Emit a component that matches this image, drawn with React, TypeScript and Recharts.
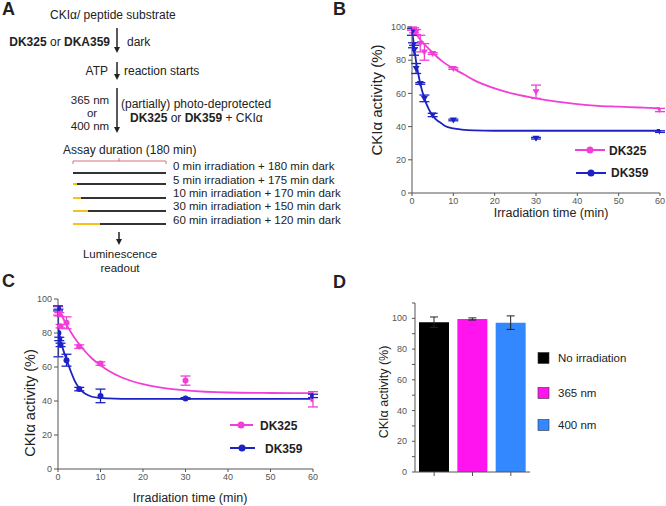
import { ComposedChart, Line, Scatter, ErrorBar, XAxis, YAxis, BarChart, Bar, Cell } from "recharts"

const FONT = "'Liberation Sans', Arial, sans-serif"
const PINK = "#f23ed6"
const BLUE = "#1c22c4"
const AXIS = "#555"

const TIME_TICKS = [0, 10, 20, 30, 40, 50, 60]
const ACT_TICKS = [0, 20, 40, 60, 80, 100]

// panel B
const B_325_T = [0, 0.5, 1, 2, 3, 5, 10, 30, 60]
const B_325_Y = [99, 98, 97, 90, 85, 84, 75, 61, 50]
const B_325_E = [1, 1.5, 1.5, 5, 5, 0.5, 0.5, 4, 1]
const B_359_T = [0, 0.25, 0.5, 1, 2, 3, 5, 10, 30, 60]
const B_359_Y = [97, 89, 86, 75, 66, 57, 47, 44, 33, 37]
const B_359_E = [2, 1.5, 3, 3, 0.5, 2, 1, 0.5, 0.5, 0.5]
// fitted curves, read at a few times
const B_FIT_325_T = [0, 1, 2, 3, 4, 5, 7.5, 10, 12.5, 15, 20, 25, 30, 35, 40, 45, 50, 55, 60]
const B_FIT_325_Y = [98.5, 95.5, 92.5, 89.5, 87, 84.5, 79, 75, 71.5, 68, 63, 59.5, 57, 55, 53.5, 52.5, 52, 51.5, 51]
const B_FIT_359_T = [0, 0.5, 1, 1.5, 2, 3, 4, 5, 6, 7, 8, 10, 12, 15, 20, 30, 40, 60]
const B_FIT_359_Y = [98, 88.6, 79, 72, 66, 57, 50.8, 46.6, 43.9, 42.2, 40.4, 38.9, 38.2, 37.7, 37.5, 37.5, 37.5, 37.5]

// panel C
const C_325_T = [0, 0.3, 0.6, 2, 5, 10, 30, 60]
const C_325_Y = [93, 91, 84, 86, 72, 62, 52, 41]
const C_325_E = [2.5, 1, 1, 3.5, 1, 1, 2.7, 4.5]
const C_359_T = [0, 0.1, 0.3, 0.6, 2, 5, 10, 30, 60]
const C_359_Y = [94.5, 80, 76.5, 73, 64, 47, 43, 41.5, 43]
const C_359_E = [1.5, 14, 1, 1, 3.5, 1, 4, 0.5, 1]
const C_FIT_325_T = [0, 1, 2, 3, 4, 5, 6, 8, 10, 12, 15, 20, 25, 30, 40, 50, 60]
const C_FIT_325_Y = [95, 89.7, 84.9, 80.6, 76.8, 73.4, 70.3, 65, 61, 57.6, 53.8, 49.9, 47.6, 46.3, 45, 44.7, 44.6]
const C_FIT_359_T = [0, 0.5, 1, 1.5, 2, 3, 4, 5, 6, 7, 8, 10, 12, 15, 20, 60]
const C_FIT_359_Y = [84, 76, 72, 68, 64.5, 57.5, 51.5, 47.5, 45, 43.5, 42.5, 41.8, 41.5, 41.3, 41.2, 41.2]

// panel D
const D_CATS = ["No irradiation", "365 nm", "400 nm"]
const D_VALS = [97.5, 99.6, 97.2]
const D_ERRS = [3.4, 0.7, 4.4]
const D_COLORS = ["#000000", "#ff14f0", "#3388ff"]
const D_TICKS = [0, 10, 20, 30, 40, 50, 60, 70, 80, 90, 100, 110]

const zip = (xs: number[], ys: number[], es?: number[]) =>
  xs.map((x, i) => ({ x, y: ys[i], err: es ? es[i] : 0 }))

const tickStyle = { fontSize: 9, fill: "#555", fontFamily: FONT }

const TriDown = (color: string) => (p: any) => {
  const { cx, cy } = p
  return <polygon points={`${cx - 3.5},${cy - 2.5} ${cx + 3.5},${cy - 2.5} ${cx},${cy + 3.5}`} fill={color} />
}
const Dot = (color: string) => (p: any) => <circle cx={p.cx} cy={p.cy} r={3} fill={color} />

function Arrow({ x, y1, y2 }: { x: number; y1: number; y2: number }) {
  return (
    <g>
      <line x1={x} x2={x} y1={y1} y2={y2 - 4} stroke="#222" strokeWidth={1.5} />
      <polygon points={`${x - 3},${y2 - 6} ${x + 3},${y2 - 6} ${x},${y2}`} fill="#222" />
    </g>
  )
}

const ASSAY = [
  { label: "0 min irradiation + 180 min dark", y: 173, irr: 0, ty: 170 },
  { label: "5 min irradiation + 175 min dark", y: 184, irr: 4, ty: 184 },
  { label: "10 min irradiation + 170 min dark", y: 198, irr: 8, ty: 197 },
  { label: "30 min irradiation + 150 min dark", y: 211, irr: 15, ty: 210 },
  { label: "60 min irradiation + 120 min dark", y: 224, irr: 27, ty: 224 },
]

function Overlay() {
  const t = { fontFamily: FONT, fill: "#222" }
  return (
    <svg width={666} height={506} style={{ position: "absolute", left: 0, top: 0 }}>
      {/* panel letters */}
      <text x={2} y={15} fontSize={18} fontWeight="bold" {...t}>A</text>
      <text x={333} y={15} fontSize={18} fontWeight="bold" {...t}>B</text>
      <text x={2} y={287} fontSize={18} fontWeight="bold" {...t}>C</text>
      <text x={333} y={288} fontSize={18} fontWeight="bold" {...t}>D</text>

      {/* panel A scheme */}
      <g fontSize={12} {...t}>
        <text x={50} y={19}>CKIα/ peptide substrate</text>
        <text x={110} y={46} textAnchor="end"><tspan fontWeight="bold">DK325</tspan> or <tspan fontWeight="bold">DKA359</tspan></text>
        <text x={127} y={46}>dark</text>
        <Arrow x={117} y1={28} y2={53} />
        <text x={108} y={75} textAnchor="end">ATP</text>
        <text x={124} y={75}>reaction starts</text>
        <Arrow x={117} y1={62} y2={80} />
        <text x={90} y={104} textAnchor="middle" fontSize={11.5}>365 nm</text>
        <text x={92} y={116.5} textAnchor="middle" fontSize={11.5}>or</text>
        <text x={90} y={130} textAnchor="middle" fontSize={11.5}>400 nm</text>
        <Arrow x={117} y1={88} y2={133} />
        <text x={121} y={108}>(partially) photo-deprotected</text>
        <text x={130} y={122}><tspan fontWeight="bold">DK325</tspan> or <tspan fontWeight="bold">DK359</tspan> + CKIα</text>
        <text x={63} y={154}>Assay duration (180 min)</text>
        <path d="M73,164 L73,161 L166,161 L166,164 M119,161 L119,158" fill="none" stroke="#d9707a" strokeWidth={1} />
        {ASSAY.map((a) => (
          <g key={a.label}>
            <line x1={73} x2={166} y1={a.y} y2={a.y} stroke="#333" strokeWidth={2} />
            {a.irr > 0 && <line x1={73} x2={73 + a.irr} y1={a.y} y2={a.y} stroke="#f4c21a" strokeWidth={2} />}
            <text x={173} y={a.ty} fontSize={11.5}>{a.label}</text>
          </g>
        ))}
        <Arrow x={119} y1={232} y2={245} />
        <text x={120} y={258} textAnchor="middle" fontSize={11.5}>Luminescence</text>
        <text x={120} y={272} textAnchor="middle" fontSize={11.5}>readout</text>
      </g>

      {/* axis titles */}
      <g {...t}>
        <text transform="translate(382,100) rotate(-90)" textAnchor="middle" fontSize={15}>CKIα activity (%)</text>
        <text x={551} y={217} textAnchor="middle" fontSize={12.5}>Irradiation time (min)</text>
        <text transform="translate(35,403) rotate(-90)" textAnchor="middle" fontSize={14.5}>CKIα activity (%)</text>
        <text x={190} y={502} textAnchor="middle" fontSize={12.5}>Irradiation time (min)</text>
        <text transform="translate(388,392) rotate(-90)" textAnchor="middle" fontSize={12.5}>CKIα activity (%)</text>
      </g>

      {/* legends B */}
      <g fontFamily={FONT} fontWeight="bold" fontSize={12} fill="#222">
        <line x1={575} x2={605} y1={150} y2={150} stroke={PINK} strokeWidth={2} />
        <circle cx={590} cy={150} r={3.5} fill={PINK} />
        <text x={609} y={155}>DK325</text>
        <line x1={576} x2={606} y1={173} y2={173} stroke={BLUE} strokeWidth={2} />
        <circle cx={591} cy={173} r={3.5} fill={BLUE} />
        <text x={611} y={177}>DK359</text>
        {/* legends C */}
        <line x1={230} x2={253} y1={425} y2={425} stroke={PINK} strokeWidth={2} />
        <circle cx={241} cy={425} r={3.5} fill={PINK} />
        <text x={260} y={430}>DK325</text>
        <line x1={230} x2={255} y1={448} y2={448} stroke={BLUE} strokeWidth={2} />
        <circle cx={242} cy={448} r={3.5} fill={BLUE} />
        <text x={265} y={453}>DK359</text>
      </g>

      {/* legend D */}
      <g fontFamily={FONT} fontSize={11.5} fill="#222">
        {D_CATS.map((c, i) => {
          const cy = [358, 393, 425][i]
          return (
            <g key={c}>
              <rect x={538} y={cy - 5.5} width={11} height={11} fill={D_COLORS[i]} stroke="#333" strokeWidth={0.6} />
              <text x={558} y={cy + 4}>{c}</text>
            </g>
          )
        })}
      </g>
    </svg>
  )
}

function DTick(p: any) {
  const v = p.payload.value
  const y = p.payload.coordinate
  const major = v % 20 === 0 && v <= 100
  const ax = 85
  return (
    <g>
      <line x1={ax} x2={ax - 3} y1={y} y2={y} stroke={AXIS} />
      {major && (
        <text x={ax - 8} y={y + 3} textAnchor="end" fontSize={9} fill="#555" fontFamily={FONT}>{v}</text>
      )}
    </g>
  )
}

function TimeChart({
  width, height, margin, fit325, fit359, pts325, pts359, shape,
}: any) {
  return (
    <ComposedChart width={width} height={height} margin={margin}>
      <XAxis type="number" dataKey="x" domain={[0, 60]} ticks={TIME_TICKS} allowDataOverflow height={20}
        tick={tickStyle} tickSize={3} stroke={AXIS} interval={0} />
      <YAxis type="number" dataKey="y" domain={[0, 100]} ticks={ACT_TICKS} allowDataOverflow width={30}
        tick={tickStyle} tickSize={4} stroke={AXIS} interval={0} />
      <Line data={fit325} dataKey="y" type="monotone" stroke={PINK} strokeWidth={1.8} dot={false} isAnimationActive={false} />
      <Line data={fit359} dataKey="y" type="monotone" stroke={BLUE} strokeWidth={1.8} dot={false} isAnimationActive={false} />
      <Scatter data={pts325} dataKey="y" shape={shape(PINK)} isAnimationActive={false}>
        <ErrorBar dataKey="err" direction="y" width={5} stroke={PINK} strokeWidth={1.3} />
      </Scatter>
      <Scatter data={pts359} dataKey="y" shape={shape(BLUE)} isAnimationActive={false}>
        <ErrorBar dataKey="err" direction="y" width={5} stroke={BLUE} strokeWidth={1.3} />
      </Scatter>
    </ComposedChart>
  )
}

export default function App() {
  const dData = D_CATS.map((c, i) => ({ name: c, v: D_VALS[i], err: D_ERRS[i] }))
  return (
    <div style={{ position: "absolute", left: 0, top: 0, width: 666, height: 506, background: "#fff", overflow: "hidden" }}>
      <Overlay />
      <div style={{ position: "absolute", left: 330, top: 0 }}>
        <TimeChart width={336} height={250} margin={{ top: 27, right: 6, bottom: 37, left: 52 }}
          fit325={zip(B_FIT_325_T, B_FIT_325_Y)} fit359={zip(B_FIT_359_T, B_FIT_359_Y)}
          pts325={zip(B_325_T, B_325_Y, B_325_E)} pts359={zip(B_359_T, B_359_Y, B_359_E)} shape={TriDown} />
      </div>
      <div style={{ position: "absolute", left: 0, top: 250 }}>
        <TimeChart width={330} height={256} margin={{ top: 49, right: 17, bottom: 17, left: 28 }}
          fit325={zip(C_FIT_325_T, C_FIT_325_Y)} fit359={zip(C_FIT_359_T, C_FIT_359_Y)}
          pts325={zip(C_325_T, C_325_Y, C_325_E)} pts359={zip(C_359_T, C_359_Y, C_359_E)} shape={Dot} />
      </div>
      <div style={{ position: "absolute", left: 330, top: 250 }}>
        <BarChart width={336} height={256} data={dData} margin={{ top: 53, right: 136, bottom: 14, left: 55 }} barSize={30}>
          <XAxis dataKey="name" height={20} stroke={AXIS} tickSize={4} tickFormatter={() => ""} interval={0} />
          <YAxis domain={[0, 110]} ticks={D_TICKS} allowDataOverflow width={30} stroke={AXIS} tickLine={false}
            tick={DTick} interval={0} />
          <Bar dataKey="v" isAnimationActive={false}>
            {dData.map((d, i) => (
              <Cell key={d.name} fill={D_COLORS[i]} />
            ))}
            <ErrorBar dataKey="err" direction="y" width={4} stroke="#222" strokeWidth={1} />
          </Bar>
        </BarChart>
      </div>
    </div>
  )
}
